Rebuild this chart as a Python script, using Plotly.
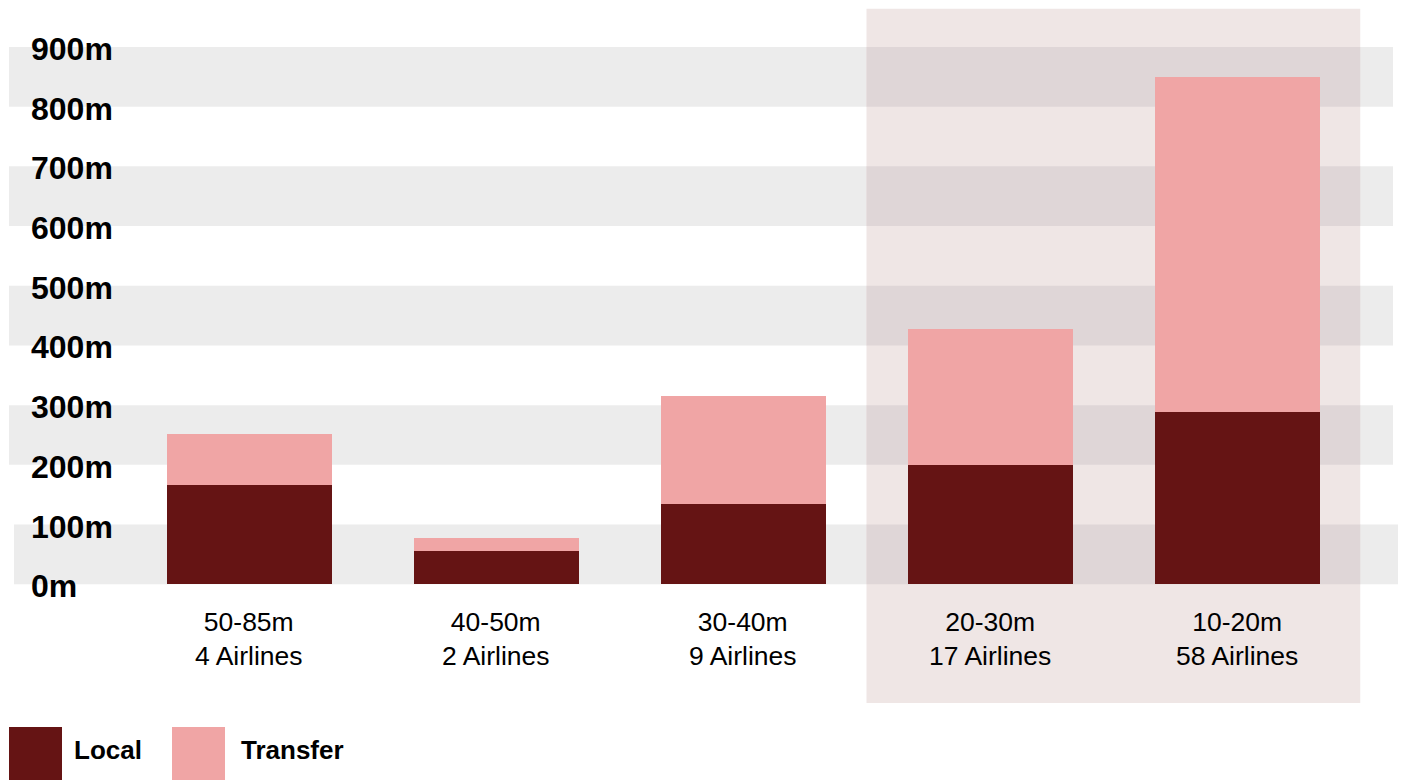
import plotly.graph_objects as go

# Passenger volume by airline size band (millions)
size_bands = ["50-85m", "40-50m", "30-40m", "20-30m", "10-20m"]
airline_counts = [4, 2, 9, 17, 58]
local_pax = [166, 56, 135, 200, 289]
transfer_pax = [86, 22, 180, 228, 561]

tick_values = [0, 100, 200, 300, 400, 500, 600, 700, 800, 900]
tick_labels = ["0m", "100m", "200m", "300m", "400m", "500m", "600m", "700m", "800m", "900m"]

LOCAL_COLOR = "#651414"
TRANSFER_COLOR = "#F0A5A5"
BAND_COLOR = "#ECECEC"
HILITE_COLOR = "#EFE6E5"
OVERLAP_COLOR = "#DFD6D7"
FONT = "Liberation Sans, Arial, sans-serif"

W, H = 1404, 780
idx = list(range(len(size_bands)))

fig = go.Figure()
fig.add_trace(go.Bar(x=idx, y=local_pax, name="Local", marker_color=LOCAL_COLOR,
                     marker_line_width=0, width=0.672, showlegend=False))
fig.add_trace(go.Bar(x=idx, y=transfer_pax, name="Transfer", marker_color=TRANSFER_COLOR,
                     marker_line_width=0, width=0.672, showlegend=False))

shapes = []
# highlighted group (the two smallest size bands)
hl_x0, hl_x1 = 2.5, 4.5
shapes.append(dict(type="rect", xref="x", yref="y", x0=hl_x0, x1=hl_x1, y0=-199, y1=964,
                   fillcolor=HILITE_COLOR, line_width=0, layer="below"))

# alternating horizontal bands every other 100m
for lo in range(0, 900, 200):
    hi = lo + 100
    left = 14 / W if lo == 0 else 9 / W
    right = 1398 / W if lo == 0 else 1393 / W
    shapes.append(dict(type="rect", xref="paper", yref="y", x0=left, x1=right, y0=lo, y1=hi,
                       fillcolor=BAND_COLOR, line_width=0, layer="below"))
    shapes.append(dict(type="rect", xref="x", yref="y", x0=hl_x0, x1=hl_x1, y0=lo, y1=hi,
                       fillcolor=OVERLAP_COLOR, line_width=0, layer="below"))

# legend swatches
shapes.append(dict(type="rect", xref="paper", yref="paper", x0=9 / W, x1=62 / W,
                   y0=0, y1=53 / H, fillcolor=LOCAL_COLOR, line_width=0))
shapes.append(dict(type="rect", xref="paper", yref="paper", x0=172 / W, x1=225 / W,
                   y0=0, y1=53 / H, fillcolor=TRANSFER_COLOR, line_width=0))

annotations = []
for v, t in zip(tick_values, tick_labels):
    annotations.append(dict(x=29 / W, xref="paper", y=v, yref="y", text=t, showarrow=False,
                            xanchor="left", yanchor="middle", yshift=-2,
                            font=dict(family=FONT, size=32, color="#000000", weight="bold")))

for i, (band, n) in enumerate(zip(size_bands, airline_counts)):
    annotations.append(dict(x=i, xref="x", y=-92, yref="y", text=f"{band}<br>{n} Airlines",
                            showarrow=False, xanchor="center", yanchor="middle",
                            font=dict(family=FONT, size=26.5, color="#000000")))

annotations.append(dict(x=72 / W, xref="paper", y=(780 - 750) / H, yref="paper", text="Local",
                        showarrow=False, xanchor="left", yanchor="middle",
                        font=dict(family=FONT, size=26, color="#000000", weight="bold")))
annotations.append(dict(x=239 / W, xref="paper", y=(780 - 750) / H, yref="paper", text="Transfer",
                        showarrow=False, xanchor="left", yanchor="middle",
                        font=dict(family=FONT, size=26, color="#000000", weight="bold")))

fig.update_layout(
    width=W, height=H,
    margin=dict(l=0, r=0, t=0, b=0),
    paper_bgcolor="white", plot_bgcolor="rgba(0,0,0,0)",
    barmode="stack", bargap=0,
    shapes=shapes, annotations=annotations,
    xaxis=dict(range=[-0.5, 4.5], domain=[125.5 / W, 1360.5 / W], showticklabels=False,
               showgrid=False, zeroline=False, fixedrange=True),
    yaxis=dict(range=[-328, 978.7], domain=[0, 1], showticklabels=False,
               showgrid=False, zeroline=False, fixedrange=True),
    font=dict(family=FONT),
)

fig.write_html("out.html")
